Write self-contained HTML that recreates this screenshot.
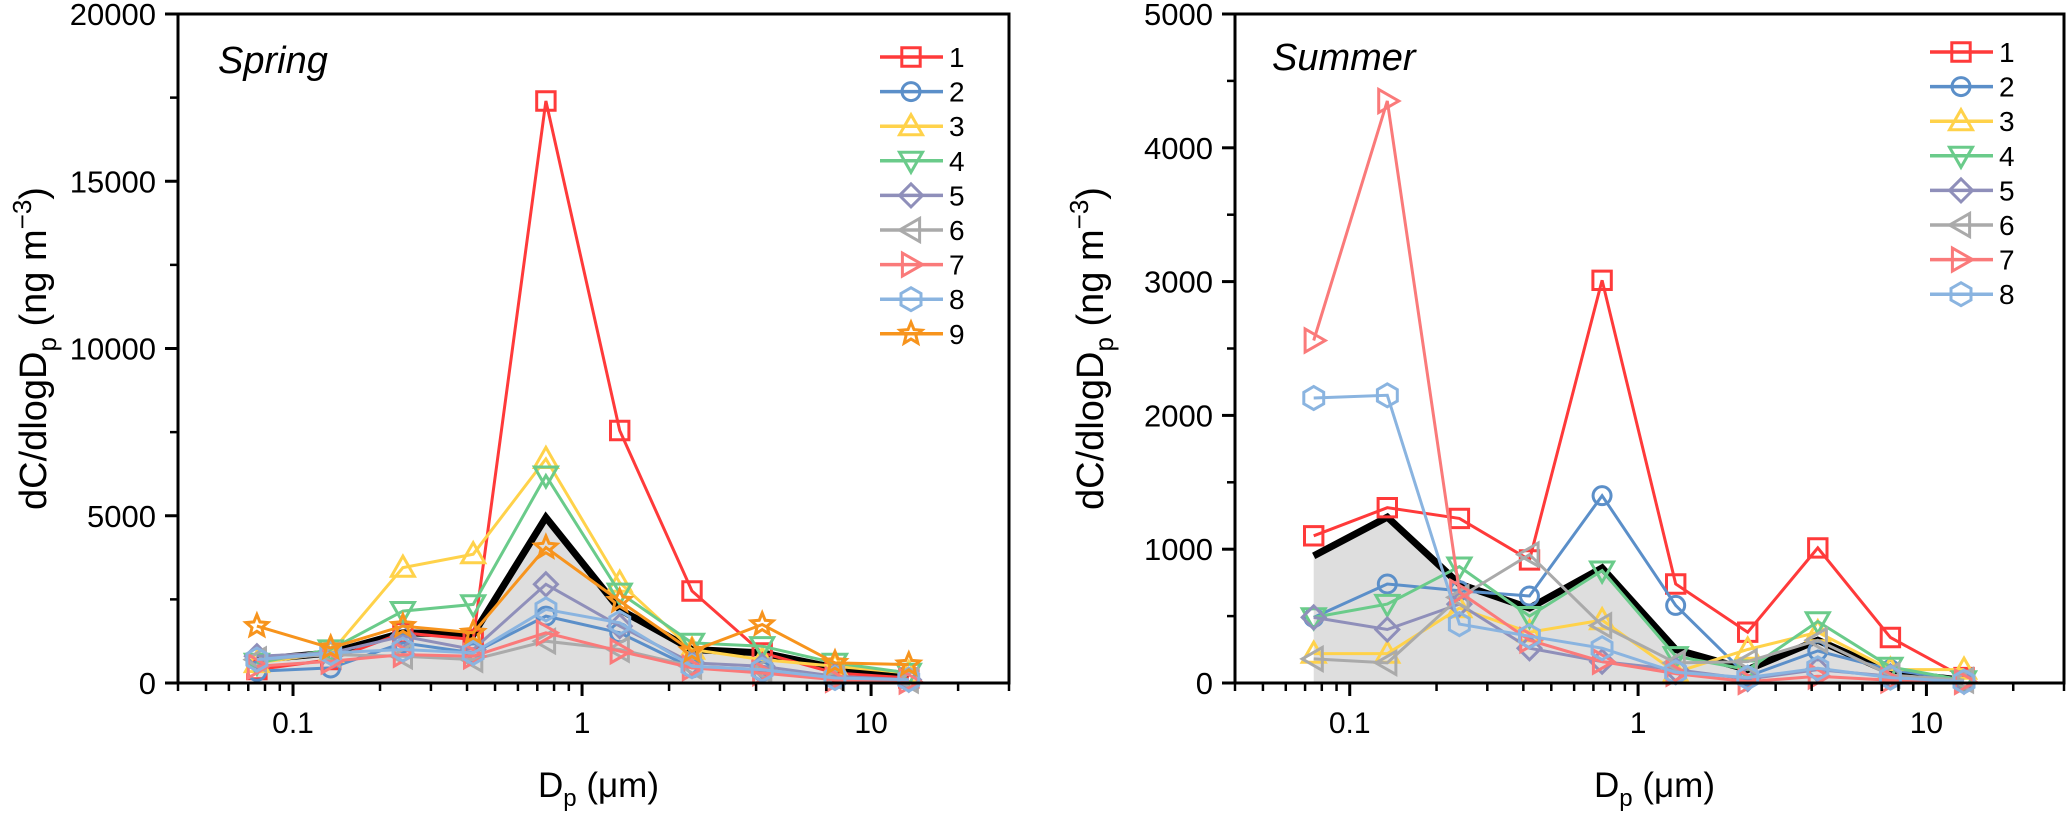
<!DOCTYPE html>
<html><head><meta charset="utf-8"><style>
html,body{margin:0;padding:0;background:#fff;}
svg{display:block;font-family:"Liberation Sans",Arial,sans-serif;}
</style></head><body>
<svg id="chart" width="2067" height="815" viewBox="0 0 2067 815" xmlns="http://www.w3.org/2000/svg"></svg>
<script>
const sizes = [0.075, 0.135, 0.24, 0.42, 0.75, 1.35, 2.4, 4.2, 7.5, 13.5];
const seriesNames = ["1","2","3","4","5","6","7","8","9"];
const seriesColors = ["#ff3a3a","#5b8fc9","#ffd24a","#6acb8a","#8f8fba","#aaaaaa","#fa7a7a","#8ab4e0","#f7941d"];
const seriesMarkers = ["square","circle","triangle","down","diamond","left","right","hexagon","star"];
const springS1 = [400, 700, 1500, 1300, 17400, 7550, 2750, 900, 300, 150];
const springS2 = [350, 450, 1200, 900, 2000, 1500, 450, 350, 150, 80];
const springS3 = [600, 900, 3450, 3850, 6700, 3000, 1000, 700, 500, 300];
const springS4 = [600, 1000, 2150, 2350, 6200, 2700, 1200, 1100, 600, 300];
const springS5 = [800, 900, 1400, 1000, 2950, 1700, 600, 500, 200, 100];
const springS6 = [700, 850, 800, 700, 1250, 1000, 500, 400, 150, 80];
const springS7 = [500, 650, 850, 800, 1500, 950, 450, 300, 100, 50];
const springS8 = [700, 900, 1000, 900, 2200, 1800, 500, 400, 150, 100];
const springS9 = [1700, 1050, 1700, 1500, 4050, 2450, 950, 1750, 600, 550];
const springMean = [700, 900, 1500, 1450, 4950, 2200, 1000, 900, 450, 250];
const summerS1 = [1100, 1310, 1230, 920, 3010, 740, 380, 1010, 340, 40];
const summerS2 = [490, 740, 690, 650, 1400, 580, 50, 240, 100, 20];
const summerS3 = [220, 220, 560, 380, 470, 80, 250, 380, 100, 100];
const summerS4 = [490, 590, 870, 500, 840, 200, 100, 460, 120, 20];
const summerS5 = [490, 400, 590, 260, 160, 100, 30, 100, 50, 10];
const summerS6 = [180, 150, 640, 960, 430, 150, 160, 320, 60, 20];
const summerS7 = [2560, 4350, 680, 320, 160, 70, 10, 50, 20, 10];
const summerS8 = [2130, 2150, 440, 350, 260, 80, 40, 110, 40, 10];
const summerMean = [950, 1240, 740, 560, 860, 250, 100, 320, 80, 20];
const springYTicks = [0, 5000, 10000, 15000, 20000];
const summerYTicks = [0, 1000, 2000, 3000, 4000, 5000];
const xTickValues = [0.1, 1, 10];
const xTickLabels = ["0.1", "1", "10"];

const NS = "http://www.w3.org/2000/svg";
const svg = document.getElementById("chart");
function mk(tag, attrs, parent) {
  const e = document.createElementNS(NS, tag);
  for (const k in attrs) e.setAttribute(k, attrs[k]);
  (parent || svg).appendChild(e);
  return e;
}
const XMIN = 0.04, XMAX = 30;

function markerPath(type, x, y, r) {
  const p = (pts) => "M" + pts.map(q => q[0].toFixed(1) + "," + q[1].toFixed(1)).join("L") + "Z";
  if (type === "square") return p([[x-r*0.8,y-r*0.8],[x+r*0.8,y-r*0.8],[x+r*0.8,y+r*0.8],[x-r*0.8,y+r*0.8]]);
  if (type === "triangle") return p([[x,y-r],[x+r,y+r*0.75],[x-r,y+r*0.75]]);
  if (type === "down") return p([[x,y+r],[x+r,y-r*0.75],[x-r,y-r*0.75]]);
  if (type === "left") return p([[x-r,y],[x+r*0.75,y-r],[x+r*0.75,y+r]]);
  if (type === "right") return p([[x+r,y],[x-r*0.75,y-r],[x-r*0.75,y+r]]);
  if (type === "diamond") return p([[x,y-r],[x+r,y],[x,y+r],[x-r,y]]);
  if (type === "hexagon") { const a=[]; for(let i=0;i<6;i++){const t=Math.PI/3*i+Math.PI/6; a.push([x+r*Math.cos(t),y+r*Math.sin(t)]);} return p(a); }
  if (type === "star") { const a=[]; for(let i=0;i<10;i++){const t=-Math.PI/2+Math.PI/5*i; const rr=i%2?r*0.45:r; a.push([x+rr*Math.cos(t),y+rr*Math.sin(t)]);} return p(a); }
  return "";
}
function drawMarker(g, type, x, y, color, name) {
  let e;
  if (type === "circle") e = mk("circle", {cx:x, cy:y, r:9, fill:"none", stroke:color, "stroke-width":3}, g);
  else e = mk("path", {d:markerPath(type, x, y, 11.5), fill:"none", stroke:color, "stroke-width":3}, g);
  
  
}

function drawPanel(cfg) {
  const {left, right, top, bottom, ymax, yTicks, series, mean, title, key, legendX, legendY, titleX, titleY} = cfg;
  const g = mk("g", {});
  
  
  const lx0 = Math.log10(XMIN), lx1 = Math.log10(XMAX);
  const xs = v => left + (Math.log10(v) - lx0) / (lx1 - lx0) * (right - left);
  const ys = v => bottom - v / ymax * (bottom - top);

  let d = "M" + xs(sizes[0]) + "," + ys(0);
  mean.forEach((v,i) => d += "L" + xs(sizes[i]).toFixed(1) + "," + ys(v).toFixed(1));
  d += "L" + xs(sizes[sizes.length-1]) + "," + ys(0) + "Z";
  const fill = mk("path", {d, fill:"#dedede", stroke:"none"}, g);
  
  
  const ml = mk("polyline", {points: mean.map((v,i)=>xs(sizes[i]).toFixed(1)+","+ys(v).toFixed(1)).join(" "), fill:"none", stroke:"#000", "stroke-width":7}, g);
  
  

  series.forEach((vals, si) => {
    const sg = mk("g", {}, g);
    
    
    mk("polyline", {points: vals.map((v,i)=>xs(sizes[i]).toFixed(1)+","+ys(v).toFixed(1)).join(" "), fill:"none", stroke:seriesColors[si], "stroke-width":3}, sg);
    vals.forEach((v,i) => drawMarker(sg, seriesMarkers[si], xs(sizes[i]), ys(v), seriesColors[si], key + '-point-' + seriesNames[si] + '-' + i));
  });

  const fr = mk("rect", {x:left, y:top, width:right-left, height:bottom-top, fill:"none", stroke:"#000", "stroke-width":3}, g);
  
  

  yTicks.forEach((t, i) => {
    const y = ys(t);
    mk("line", {x1:left-13, x2:left, y1:y, y2:y, stroke:"#000", "stroke-width":3}, g);
    const tx = mk("text", {x:left-22, y:y+11, "text-anchor":"end", "font-size":31}, g);
    tx.textContent = t;
    
    
    if (i < yTicks.length-1) {
      const ym = ys((t + yTicks[i+1]) / 2);
      mk("line", {x1:left-8, x2:left, y1:ym, y2:ym, stroke:"#000", "stroke-width":2.5}, g);
    }
  });
  for (let dec = -2; dec <= 1; dec++) {
    for (let m = 1; m <= 9; m++) {
      const v = m * Math.pow(10, dec);
      if (v < XMIN - 1e-9 || v > XMAX + 1e-9) continue;
      const x = xs(v);
      const major = m === 1;
      mk("line", {x1:x, x2:x, y1:bottom, y2:bottom + (major?13:8), stroke:"#000", "stroke-width":major?3:2.5}, g);
    }
  }
  xTickValues.forEach((v,i) => {
    const tx = mk("text", {x:xs(v), y:bottom+50, "text-anchor":"middle", "font-size":30}, g);
    tx.textContent = xTickLabels[i];
    
    
  });
  const tt = mk("text", {x:titleX, y:titleY, "font-size":38, "font-style":"italic"}, g);
  tt.textContent = title;
  
  
  const xl = mk("text", {x:(left+right)/2 + 5, y:bottom+114, "text-anchor":"middle", "font-size":35}, g);
  xl.innerHTML = 'D<tspan font-size="24" dy="9">p</tspan><tspan dy="-9"> (μm)</tspan>';
  
  
  const ylx = left - 132, yly = (top+bottom)/2;
  const yl = mk("text", {x:ylx, y:yly, "text-anchor":"middle", "font-size":38, transform:"rotate(-90 " + ylx + " " + yly + ")"}, g);
  yl.innerHTML = 'dC/dlogD<tspan font-size="26" dy="10">p</tspan><tspan dy="-10"> (ng m</tspan><tspan font-size="26" dy="-15">−3</tspan><tspan dy="15">)</tspan>';
  
  
  series.forEach((vals, si) => {
    const y = legendY + si * 34.6;
    const lg = mk("g", {}, g);
    
    
    mk("line", {x1:legendX, x2:legendX+63, y1:y, y2:y, stroke:seriesColors[si], "stroke-width":3.5}, lg);
    drawMarker(lg, seriesMarkers[si], legendX+31, y, seriesColors[si], key + '-legend-marker-' + seriesNames[si]);
    const t = mk("text", {x:legendX+69, y:y+10, "font-size":28}, lg);
    t.textContent = seriesNames[si];
  });
}

drawPanel({left:178, right:1009, top:14, bottom:683, ymax:20000, yTicks:springYTicks,
  series:[springS1,springS2,springS3,springS4,springS5,springS6,springS7,springS8,springS9],
  mean:springMean, title:"Spring", key:"spring", legendX:880, legendY:57, titleX:218, titleY:73});
drawPanel({left:1235, right:2064, top:14, bottom:683, ymax:5000, yTicks:summerYTicks,
  series:[summerS1,summerS2,summerS3,summerS4,summerS5,summerS6,summerS7,summerS8],
  mean:summerMean, title:"Summer", key:"summer", legendX:1930, legendY:52, titleX:1272, titleY:70});
</script>
</body></html>
